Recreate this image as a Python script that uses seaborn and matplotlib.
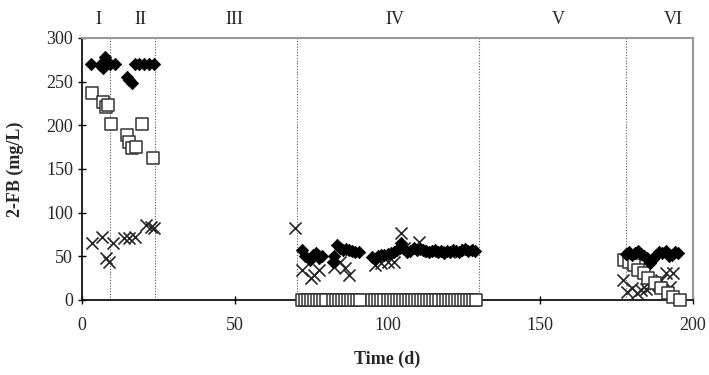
import matplotlib
matplotlib.use("Agg")
import matplotlib.pyplot as plt
import seaborn as sns

# Data
diamond_day = [2.9, 5.8, 6.8, 7.4, 9.0, 10.7, 14.6, 15.5, 16.5, 17.2, 18.8, 20.4, 22.0, 23.6,
               72.0, 73.0, 74.5, 75.5, 76.5, 77.5, 78.5,
               82.0, 82.5, 83.5, 84.5, 85.5, 86.5, 87.5, 88.5, 89.5, 90.5,
               95.0, 96.0, 97.0, 98.0, 99.0, 100.0, 101.0, 102.0, 103.0, 104.0, 104.5, 105.5, 106.5,
               107.5, 108.5, 109.5, 110.5, 111.5, 112.5, 113.5, 114.5, 115.5, 116.5, 117.5,
               118.5, 119.5, 120.5, 121.5, 122.5, 123.5, 124.5, 125.5, 126.5, 127.5, 128.5,
               178.0, 179.0, 180.0, 181.0, 182.0, 183.0, 184.0, 185.0, 186.0, 187.0, 188.0,
               189.0, 190.0, 191.0, 192.0, 193.0, 194.0, 195.0]
diamond_val = [270, 269, 266, 278, 270, 270, 255, 252, 248, 270, 270, 270, 270, 270,
               57, 50, 46, 52, 54, 48, 50,
               44, 50, 63, 60, 57, 58, 57, 56, 55, 55,
               49, 47, 50, 52, 51, 53, 54, 55, 57, 60, 65, 58, 55,
               56, 59, 57, 58, 57, 56, 55, 56, 57, 55, 56,
               54, 56, 55, 57, 56, 55, 57, 58, 56, 57, 56,
               53, 55, 52, 54, 56, 53, 50, 48, 42, 47, 52,
               55, 54, 56, 50, 52, 55, 54]

square_day = [3.2, 6.8, 7.8, 8.4, 9.4, 14.6, 15.5, 16.2, 17.8, 19.7, 23.3,
              72, 73, 74, 75, 76, 77, 78, 79, 80,
              82, 83, 84, 85, 86, 87, 88, 89, 90, 91,
              95, 96, 97, 98, 99, 100, 101, 102, 103, 104, 105, 106, 107, 108, 109, 110,
              111, 112, 113, 114, 115, 116, 117, 118, 119, 120, 121, 122, 123, 124, 125,
              126, 127, 128, 129,
              177.3, 179.0, 180.6, 182.0, 184.0, 185.4, 187.7, 189.6, 191.9, 193.5, 195.7]
square_val = [237, 227, 221, 223, 202, 189, 181, 174, 175, 202, 163,
              0, 0, 0, 0, 0, 0, 0, 0, 0,
              0, 0, 0, 0, 0, 0, 0, 0, 0, 0,
              0, 0, 0, 0, 0, 0, 0, 0, 0, 0, 0, 0, 0, 0, 0, 0,
              0, 0, 0, 0, 0, 0, 0, 0, 0, 0, 0, 0, 0, 0, 0,
              0, 0, 0, 0,
              46, 43, 40, 34, 31, 25, 19, 14, 8, 4, 0]

cross_day = [3.2, 6.5, 7.8, 8.7, 10.0, 13.9, 15.5, 17.2, 21.0, 22.7, 23.6,
             69.6, 72.0, 74.8, 76.0, 77.7,
             82.5, 84.5, 86.0, 87.4,
             96.0, 98.0, 100.0, 102.0, 104.5, 105.5,
             110.4, 114.0, 120.0, 126.0,
             177.0, 178.3, 180.0, 181.5, 183.0, 184.5, 186.0, 187.5, 189.6, 191.0, 192.5, 193.5]
cross_val = [65, 72, 48, 44, 65, 71, 71, 72, 86, 84, 82,
             82, 34, 25, 29, 34,
             38, 44, 37, 29,
             40, 42, 44, 44, 77, 60,
             66, 56, 55, 57,
             23, 9, 14, 8, 11, 13, 15, 20, 23, 31, 15, 31]

phase_bounds = [9, 24, 70.5, 130, 178]
phase_names = ["I", "II", "III", "IV", "V", "VI"]
phase_pos = [5.5, 19, 50, 102.5, 156, 193.5]

sns.set_theme(style="white")
plt.rcParams['font.family'] = ['Liberation Serif', 'DejaVu Serif']

fig = plt.figure(figsize=(7.09, 3.75), dpi=100)
ax = fig.add_axes([0.1157, 0.2, 0.8618, 0.699])

for b in phase_bounds:
    ax.axvline(b, color="0.35", linestyle=(0, (1, 1.5)), linewidth=0.8, zorder=1)

sns.scatterplot(x=cross_day, y=cross_val, marker="x", s=75, color="0.15",
                linewidth=1.2, ax=ax, zorder=3, clip_on=False)
sns.scatterplot(x=square_day, y=square_val, marker="s", s=70, facecolor="white",
                edgecolor="0.2", linewidth=1.1, ax=ax, zorder=4, clip_on=False)
sns.scatterplot(x=diamond_day, y=diamond_val, marker="D", s=40, color="black",
                edgecolor="black", linewidth=0.5, ax=ax, zorder=5, clip_on=False)

for name, pos in zip(phase_names, phase_pos):
    ax.text(pos, 311, name, ha="center", va="bottom", fontsize=13)

ax.set_xlim(0, 200)
ax.set_ylim(0, 300)
ax.set_xticks([0, 50, 100, 150, 200])
ax.set_yticks([0, 50, 100, 150, 200, 250, 300])
ax.tick_params(axis="both", direction="inout", length=6, width=1, labelsize=13,
               color="black", left=True, bottom=True)
ax.tick_params(axis="x", pad=9)
ax.set_xlabel("Time (d)", fontsize=13, fontweight="bold", labelpad=12)
ax.set_ylabel("2-FB (mg/L)", fontsize=13, fontweight="bold", labelpad=16)

for side in ["left", "bottom"]:
    ax.spines[side].set_color("black")
    ax.spines[side].set_linewidth(1.2)
for side in ["top", "right"]:
    ax.spines[side].set_color("0.6")
    ax.spines[side].set_linewidth(1.5)

fig.savefig("out.png", dpi=100)
